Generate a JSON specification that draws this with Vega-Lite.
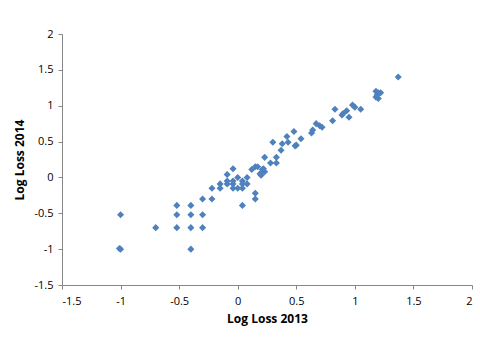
{
  "$schema": "https://vega.github.io/schema/vega-lite/v6.json",
  "autosize": {"type": "none"},
  "width": 410,
  "height": 251,
  "padding": {"left": 62, "top": 34, "right": 8, "bottom": 75},
  "background": "white",
  "config": {
    "view": {"stroke": null},
    "axis": {
      "grid": false,
      "domainColor": "#868686",
      "tickColor": "#868686",
      "tickSize": 4,
      "labelFont": "Open Sans",
      "labelFontSize": 11,
      "labelColor": "#000000",
      "titleFont": "Open Sans",
      "titleFontSize": 12,
      "titleFontWeight": "bold",
      "titleColor": "#000000"
    }
  },
  "data": {
    "values": [
      {"x": -1, "y": -0.52}, {"x": -1, "y": -1}, {"x": -1.01, "y": -0.99},
      {"x": -0.7, "y": -0.7},
      {"x": -0.52, "y": -0.39}, {"x": -0.52, "y": -0.52}, {"x": -0.52, "y": -0.7},
      {"x": -0.4, "y": -0.39}, {"x": -0.4, "y": -0.52}, {"x": -0.4, "y": -0.7}, {"x": -0.4, "y": -1},
      {"x": -0.3, "y": -0.3}, {"x": -0.3, "y": -0.52}, {"x": -0.3, "y": -0.7},
      {"x": -0.22, "y": -0.3}, {"x": -0.22, "y": -0.15},
      {"x": -0.15, "y": -0.15}, {"x": -0.15, "y": -0.09},
      {"x": -0.09, "y": 0.04}, {"x": -0.09, "y": -0.05}, {"x": -0.09, "y": -0.09},
      {"x": -0.04, "y": 0.12}, {"x": -0.04, "y": -0.05}, {"x": -0.04, "y": -0.09}, {"x": -0.04, "y": -0.15},
      {"x": 0, "y": 0}, {"x": 0, "y": -0.15},
      {"x": 0.04, "y": -0.05}, {"x": 0.04, "y": -0.09}, {"x": 0.04, "y": -0.15}, {"x": 0.04, "y": -0.39},
      {"x": 0.08, "y": 0}, {"x": 0.08, "y": -0.09},
      {"x": 0.15, "y": -0.22}, {"x": 0.15, "y": -0.3},
      {"x": 0.12, "y": 0.11}, {"x": 0.15, "y": 0.15}, {"x": 0.17, "y": 0.15}, {"x": 0.21, "y": 0.11},
      {"x": 0.23, "y": 0.08}, {"x": 0.2, "y": 0.03}, {"x": 0.19, "y": 0.05}, {"x": 0.22, "y": 0.12},
      {"x": 0.23, "y": 0.28}, {"x": 0.28, "y": 0.2}, {"x": 0.33, "y": 0.2}, {"x": 0.33, "y": 0.28},
      {"x": 0.3, "y": 0.49}, {"x": 0.37, "y": 0.38}, {"x": 0.38, "y": 0.47}, {"x": 0.42, "y": 0.57},
      {"x": 0.43, "y": 0.49}, {"x": 0.48, "y": 0.64}, {"x": 0.49, "y": 0.44}, {"x": 0.5, "y": 0.45},
      {"x": 0.54, "y": 0.54},
      {"x": 0.63, "y": 0.62}, {"x": 0.64, "y": 0.66}, {"x": 0.67, "y": 0.75}, {"x": 0.7, "y": 0.72},
      {"x": 0.72, "y": 0.7}, {"x": 0.81, "y": 0.79}, {"x": 0.83, "y": 0.95}, {"x": 0.89, "y": 0.87},
      {"x": 0.9, "y": 0.89}, {"x": 0.93, "y": 0.93}, {"x": 0.95, "y": 0.84}, {"x": 0.98, "y": 1.01},
      {"x": 1.0, "y": 0.98}, {"x": 1.05, "y": 0.95},
      {"x": 1.18, "y": 1.2}, {"x": 1.2, "y": 1.18}, {"x": 1.19, "y": 1.15}, {"x": 1.18, "y": 1.12},
      {"x": 1.22, "y": 1.18}, {"x": 1.2, "y": 1.1}, {"x": 1.37, "y": 1.4}
    ]
  },
  "mark": {"type": "point", "shape": "diamond", "filled": true, "opacity": 1, "size": 50, "color": "#4F81BD"},
  "encoding": {
    "x": {
      "field": "x", "type": "quantitative",
      "scale": {"domain": [-1.5, 2], "nice": false, "zero": false},
      "axis": {"values": [-1.5, -1, -0.5, 0, 0.5, 1, 1.5, 2], "labelExpr": "'' + datum.value", "title": "Log Loss 2013", "labelPadding": 6, "titlePadding": 7}
    },
    "y": {
      "field": "y", "type": "quantitative",
      "scale": {"domain": [-1.5, 2], "nice": false, "zero": false},
      "axis": {"values": [-1.5, -1, -0.5, 0, 0.5, 1, 1.5, 2], "labelExpr": "'' + datum.value", "title": "Log Loss 2014", "labelPadding": 5, "titlePadding": 7}
    }
  }
}
